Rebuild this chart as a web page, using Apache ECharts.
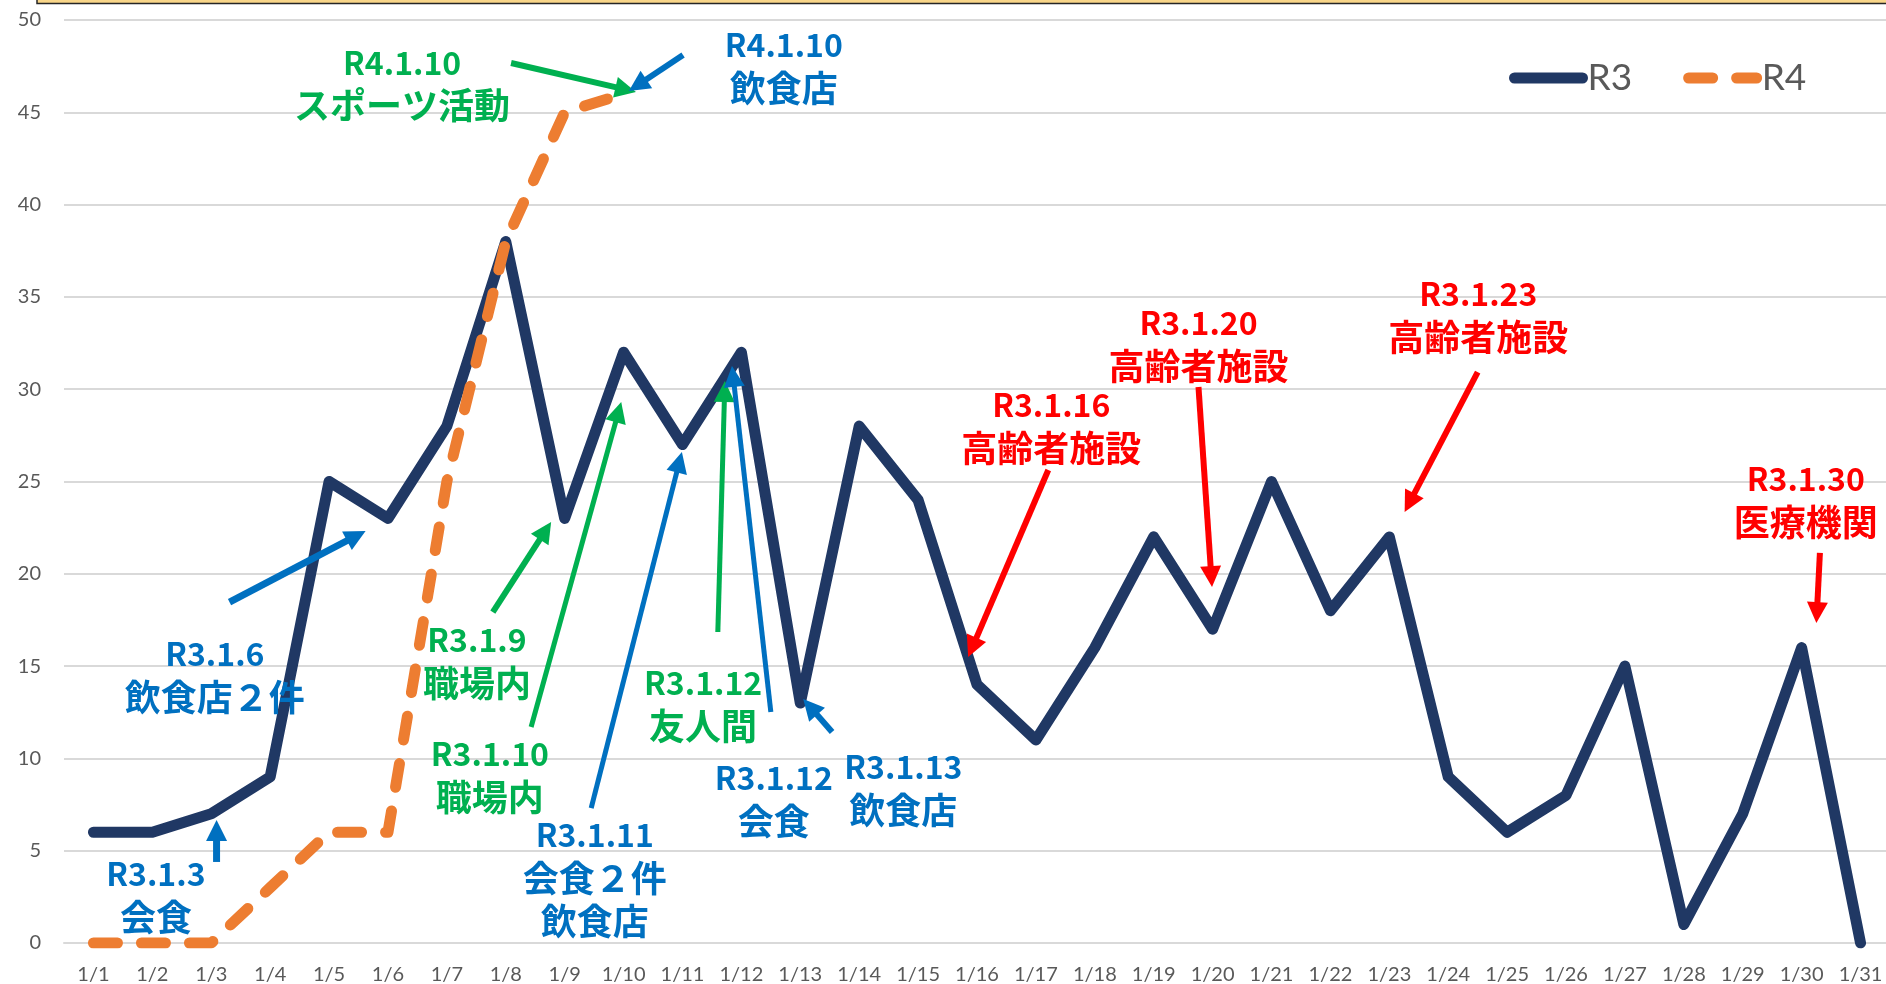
<!DOCTYPE html>
<html>
<head>
<meta charset="utf-8">
<script src="https://cdn.jsdelivr.net/npm/echarts@6/dist/echarts.min.js"></script>
<style>
  html, body { margin: 0; padding: 0; background: #fff; }
  #chart { width: 1886px; height: 984px; }
</style>
</head>
<body>
<div id="chart"></div>
<script>
// 日付（1月）
const days = ['1/1','1/2','1/3','1/4','1/5','1/6','1/7','1/8','1/9','1/10',
  '1/11','1/12','1/13','1/14','1/15','1/16','1/17','1/18','1/19','1/20',
  '1/21','1/22','1/23','1/24','1/25','1/26','1/27','1/28','1/29','1/30','1/31'];
// 令和3年 / 令和4年 の人数
const r3 = [6,6,7,9,25,23,28,38,23,32,27,32,13,28,24,14,11,16,22,17,25,18,22,9,6,8,15,1,7,16,0];
const r4 = [0,0,0,3,6,6,25,38,45,46];

const GREEN = '#00B050', BLUE = '#0070C0', RED = '#FF0000';

// 注記: at = 1行目の中心 [日付index, 値], from/to = 矢印
const notes = [
  { lines: ['R4.1.10', 'スポーツ活動'], color: GREEN, at: [5.24, 47.7], from: [7.09, 47.67], to: [9.21, 46.1] },
  { lines: ['R4.1.10', '飲食店'], color: BLUE, at: [11.72, 48.65], from: [10.01, 48.1], to: [9.09, 46.15] },
  { lines: ['R3.1.3', '会食'], color: BLUE, at: [1.06, 3.74], from: [2.09, 4.39], to: [2.09, 6.66], w: 7 },
  { lines: ['R3.1.6', '飲食店２件'], color: BLUE, at: [2.06, 15.66], from: [2.31, 18.47], to: [4.62, 22.32], w: 7 },
  { lines: ['R3.1.9', '職場内'], color: GREEN, at: [6.51, 16.41], from: [6.78, 17.93], to: [7.77, 22.81] },
  { lines: ['R3.1.10', '職場内'], color: GREEN, at: [6.73, 10.24], from: [7.43, 11.7], to: [8.96, 29.31], w: 5 },
  { lines: ['R3.1.11', '会食２件', '飲食店'], color: BLUE, at: [8.51, 5.85], from: [8.45, 7.31], to: [9.99, 26.6], w: 5 },
  { lines: ['R3.1.12', '友人間'], color: GREEN, at: [10.35, 14.08], from: [10.6, 16.85], to: [10.72, 30.44], w: 5 },
  { lines: ['R3.1.12', '会食'], color: BLUE, at: [11.55, 8.94], from: [11.5, 12.51], to: [10.84, 31.26], w: 5 },
  { lines: ['R3.1.13', '飲食店'], color: BLUE, at: [13.75, 9.53], from: [12.54, 11.43], to: [12.05, 13.22] },
  { lines: ['R3.1.16', '高齢者施設'], color: RED, at: [16.26, 29.14], from: [16.21, 25.62], to: [14.85, 15.49] },
  { lines: ['R3.1.20', '高齢者施設'], color: RED, at: [18.76, 33.59], from: [18.76, 30.12], to: [18.99, 19.28] },
  { lines: ['R3.1.23', '高齢者施設'], color: RED, at: [23.51, 35.16], from: [23.5, 30.93], to: [22.26, 23.35] },
  { lines: ['R3.1.30', '医療機関'], color: RED, at: [29.07, 25.14], from: [29.31, 21.13], to: [29.25, 17.33] }
];

const chart = echarts.init(document.getElementById('chart'));

const option = {
  animation: false,
  grid: { left: 64, top: 20, width: 1826, height: 923, outerBoundsMode: 'none' },
  legend: {
    data: ['R3', 'R4'],
    left: 1504,
    top: 51,
    itemWidth: 68,
    itemHeight: 14,
    itemGap: 51,
    itemStyle: { color: 'rgba(0,0,0,0)', borderWidth: 0 },
    lineStyle: { width: 11, cap: 'round' },
    textStyle: { fontFamily: 'Lato', fontSize: 37, color: '#595959', lineHeight: 44 }
  },
  xAxis: {
    type: 'category',
    data: days,
    axisLine: { lineStyle: { color: '#D9D9D9', width: 2 } },
    axisTick: { length: 7, lineStyle: { color: '#D9D9D9', width: 2 } },
    axisLabel: { fontFamily: 'Lato', fontSize: 20, color: '#595959', margin: 22, interval: 0 }
  },
  yAxis: {
    type: 'value',
    min: 0,
    max: 50,
    interval: 5,
    axisLabel: { fontFamily: 'Lato', fontSize: 20, color: '#595959', margin: 23 },
    splitLine: { lineStyle: { color: '#D9D9D9', width: 2 } }
  },
  series: [
    {
      name: 'R3', type: 'line', data: r3, symbol: 'none',
      itemStyle: { color: '#203864' },
      lineStyle: { color: '#203864', width: 11, cap: 'round', join: 'round' }
    },
    {
      name: 'R4', type: 'line', data: r4, symbol: 'none',
      itemStyle: { color: '#ED7D31' },
      lineStyle: { color: '#ED7D31', width: 11, type: [24, 24], cap: 'round', join: 'round' }
    }
  ]
};
chart.setOption(option);

// データ座標 → ピクセル
const p0 = chart.convertToPixel({ gridIndex: 0 }, [0, 0]);
const p1 = chart.convertToPixel({ gridIndex: 0 }, [30, 50]);
function px(p) {
  return [p0[0] + (p1[0] - p0[0]) * p[0] / 30, p0[1] + (p1[1] - p0[1]) * p[1] / 50];
}

function arrow(a, b, color, w) {
  const [x1, y1] = px(a), [x2, y2] = px(b);
  const len = Math.hypot(x2 - x1, y2 - y1);
  const ux = (x2 - x1) / len, uy = (y2 - y1) / len;
  const hl = 21, hw = 10.5;
  const bx = x2 - ux * hl, by = y2 - uy * hl;
  return [
    { type: 'line', shape: { x1: x1, y1: y1, x2: bx + ux * 2, y2: by + uy * 2 },
      style: { stroke: color, lineWidth: w } },
    { type: 'polygon',
      shape: { points: [[x2, y2], [bx - uy * hw, by + ux * hw], [bx + uy * hw, by - ux * hw]] },
      style: { fill: color } }
  ];
}

const els = [
  // 上のタイトル枠の下端
  { type: 'rect', shape: { x: 37, y: -20, width: 1900, height: 23.5 },
    style: { fill: '#F9D689', stroke: '#262626', lineWidth: 1.5 } }
];
notes.forEach(function (n) {
  const c = px(n.at);
  n.lines.forEach(function (t, i) {
    els.push({
      type: 'text', x: c[0], y: c[1] + i * 43, z: 10,
      style: {
        text: t, fill: n.color,
        font: 'bold ' + (i === 0 ? 32 : 36) + 'px "Noto Sans CJK JP"',
        align: 'center', verticalAlign: 'middle'
      }
    });
  });
  arrow(n.from, n.to, n.color, n.w || 6).forEach(function (e) { e.z = 10; els.push(e); });
});
chart.setOption({ graphic: els });
</script>
</body>
</html>
